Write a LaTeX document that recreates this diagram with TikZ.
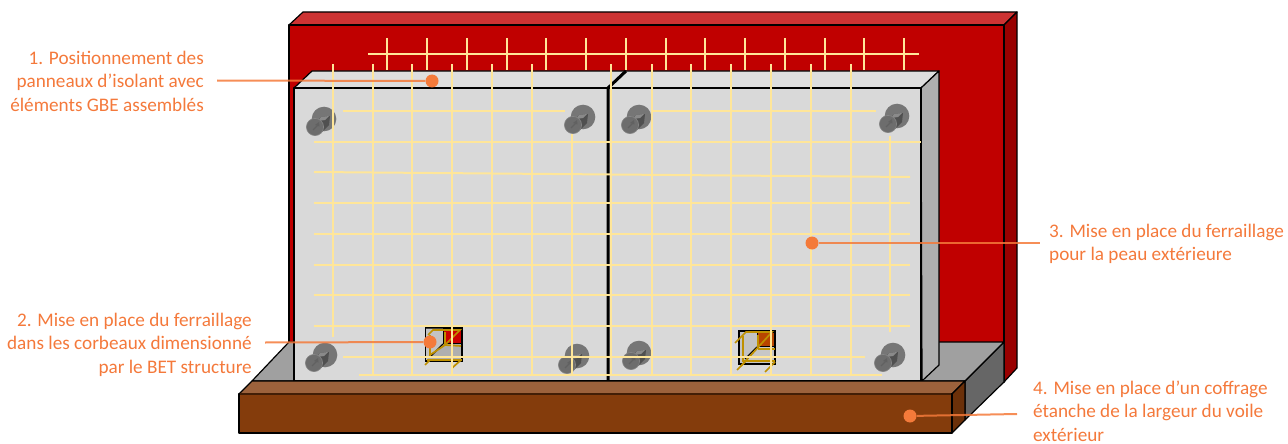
\documentclass[tikz,border=0pt]{standalone}
\usepackage{fontspec}
\setmainfont{Carlito}
\definecolor{wallred}{HTML}{C00000}
\definecolor{walltop}{HTML}{CD3333}
\definecolor{wallside}{HTML}{990000}
\definecolor{panelfront}{HTML}{D9D9D9}
\definecolor{paneltop}{HTML}{DEDEDE}
\definecolor{panelside}{HTML}{AFAFAF}
\definecolor{floorg}{HTML}{A0A0A0}
\definecolor{floorside}{HTML}{666666}
\definecolor{woodfront}{HTML}{843C0C}
\definecolor{woodtop}{HTML}{9C623C}
\definecolor{woodside}{HTML}{6B3009}
\definecolor{rebar}{HTML}{FFE699}
\definecolor{gold}{HTML}{BF9000}
\definecolor{callout}{HTML}{F47A3A}
\definecolor{calltext}{HTML}{F4793B}
\definecolor{boltg}{HTML}{767676}
\definecolor{boltneck}{HTML}{505050}
\definecolor{corbred}{HTML}{B84500}
\tikzset{
  solid3d/.style={draw=black,line width=1.2pt,line join=round},
  bar/.style={draw=rebar,line width=2pt},
  stir/.style={draw=gold,line width=1.7pt},
  dotmark/.style={circle,fill=callout,inner sep=0pt,minimum size=13pt},
  leader/.style={draw=callout,line width=2pt,draw opacity=0.85},
  labelR/.style={align=right,anchor=east,text=calltext,font=\fontsize{19.2}{23.5}\selectfont,inner sep=0pt},
  labelL/.style={align=left,anchor=west,text=calltext,font=\fontsize{19.2}{23.5}\selectfont,inner sep=0pt}
}
\newcommand{\boltmark}[4]{% small centre x,y ; big centre offset
  \begin{scope}[shift={(#1,#2)}]
    \fill[boltg] (#3,#4) circle (12.3);
    \fill[boltneck] (1,-5) -- (6,-10) -- (15,-11) -- (14,-2) -- (7,5) -- cycle;
    \fill[boltg!85!white] (6,-10) -- (14,-11) -- (10,-7) -- (3,-6) -- cycle;
    \fill[boltg!92!black,draw=black!48,line width=.6pt] (0,0) circle (8.6);
    \draw[black!62,line width=1.3pt] (-2,3) -- (3,-2);
    \fill[black!62] (0,-2) -- (4,-5) -- (4.5,-.5) -- cycle;
  \end{scope}}
\begin{document}
\begin{tikzpicture}[x=1pt,y=-1pt]
\useasboundingbox (0,0) rectangle (1288,444);
% wall
\fill[solid3d,fill=walltop] (289,25) -- (303,12) -- (1017,12) -- (1004,25) -- cycle;
\fill[solid3d,fill=wallside] (1004,25) -- (1017,12) -- (1017,368) -- (1004,382) -- cycle;
\fill[solid3d,fill=wallred] (289,25) rectangle (1004,382);
% footing
\fill[solid3d,fill=floorside] (1004,342) -- (1004,382) -- (965,420) -- (965,381) -- cycle;
\fill[solid3d,fill=floorg] (289,342) -- (1004,342) -- (965,381) -- (252,381) -- cycle;
% back rebar
\draw[bar] (368,54) -- (919,54);
\foreach \x in {387,427,467,507,546,586,626,666,705,745,785,825,864,904}
  \draw[bar] (\x,38) -- (\x,70);
% panels
\fill[solid3d,fill=paneltop] (294,88) -- (312,71) -- (939,71) -- (921,88) -- cycle;
\fill[solid3d,fill=panelside] (921,88) -- (939,71) -- (939,365) -- (922,381) -- cycle;
\fill[solid3d,fill=panelfront] (294,88) rectangle (921,381);
\draw[black,line width=3pt] (608,381) -- (608,88) -- (626,71);
% bolts
\boltmark{315}{127}{9}{-8}
\boltmark{573}{125}{10}{-8}
\boltmark{630}{125}{9}{-8}
\boltmark{888}{124}{9}{-8}
\boltmark{314}{363}{11}{-8}
\boltmark{567}{365}{10}{-9}
\boltmark{631}{361}{8}{-8}
\boltmark{883}{363}{10}{-8}
% corbel 1
\fill[draw=black,line width=1.3pt,fill=panelside] (425.5,328) rectangle (462,361);
\fill[panelfront!90!black] (426,328.5) -- (443,328.5) -- (443,344) -- (426,360) -- cycle;
\fill[draw=black,line width=.8pt,fill=red!80!black] (443,328.5) rectangle (461.5,343);
\draw[black,line width=1.3pt] (443,344) -- (431,356);
\draw[stir] (428,335) -- (433,330) -- (460,330) -- (445,345) -- (461,346);
\draw[stir] (430,335) -- (430,355) -- (445,345) -- (445,332);
\draw[stir] (427,360) -- (462,360);
\draw[stir] (425,365) -- (430,360);
\draw[stir] (452,368) -- (461,360);
% corbel 2
\fill[draw=black,line width=1.3pt,fill=panelside!70!white] (739,331) rectangle (775,364);
\fill[panelfront!90!black] (740,332) -- (757,332) -- (757,346) -- (741,362) -- cycle;
\fill[draw=black,line width=.8pt,fill=corbred] (757,332) rectangle (774.5,346);
\draw[black,line width=1.3pt] (757,347) -- (745,359);
\draw[stir] (735,343) -- (746,332) -- (772,332) -- (741,366);
\draw[stir] (758,349) -- (775,349);
\draw[stir] (743,336) -- (743,361) -- (775,361);
\draw[stir] (758,335) -- (758,349);
\draw[stir] (737,370) -- (745,362);
\draw[stir] (765,372) -- (775,362);
% front rebar
\draw[bar] (333,64) -- (333,337);
\foreach \x in {373,412,452,492,532} \draw[bar] (\x,64) -- (\x,375);
\draw[bar] (572,134) -- (572,375);
\foreach \x in {611,652,691,731,771,811,851} \draw[bar] (\x,64) -- (\x,375);
\draw[bar] (890,136) -- (890,332);
\draw[bar] (343,111) -- (565,111);
\draw[bar] (653,111) -- (876,111);
\draw[bar] (314,141.5) -- (921,141.5);
\draw[bar] (314,172) -- (910,177);
\foreach \y in {203,234,265,295,326} \draw[bar] (314,\y) -- (910,\y);
\draw[bar] (343,357) -- (865,357);
\draw[bar] (359,374.5) -- (882,374.5);
% wood
\fill[solid3d,fill=woodtop] (239,394) -- (252,381) -- (965,381) -- (952,394) -- cycle;
\fill[solid3d,fill=woodside] (952,394) -- (965,381) -- (965,420) -- (952,433) -- cycle;
\fill[solid3d,fill=woodfront] (239,394) rectangle (952,433);
\draw[woodfront!50!black,line width=2pt] (240,394) -- (951,394);
% callouts
\node[labelR] (t1) at (204,81) {1. Positionnement des\\panneaux d’isolant avec\\éléments GBE assemblés};
\node[labelR] (t2) at (252,344.5) {2. Mise en place du ferraillage\\dans les corbeaux dimensionné\\par le BET structure};
\node[labelL] (t3) at (1049,244) {3. Mise en place du ferraillage\\pour la peau extérieure};
\node[labelL] (t4) at (1033,411) {4. Mise en place d’un coffrage\\étanche de la largeur du voile\\extérieur};
\node[dotmark] (d1) at (432,81) {};
\node[dotmark] (d2) at (430,342) {};
\node[dotmark] (d3) at (812,243) {};
\node[dotmark] (d4) at (910,416) {};
\coordinate (e1) at (217,80.5);
\coordinate (e2) at (265,342.5);
\coordinate (e3) at (1040,243);
\coordinate (e4) at (1017,414);
\draw[leader] (e1) -- (d1);
\draw[leader] (e2) -- (d2);
\draw[leader] (d3) -- (e3);
\draw[leader] (d4) -- (e4);
\end{tikzpicture}
\end{document}
